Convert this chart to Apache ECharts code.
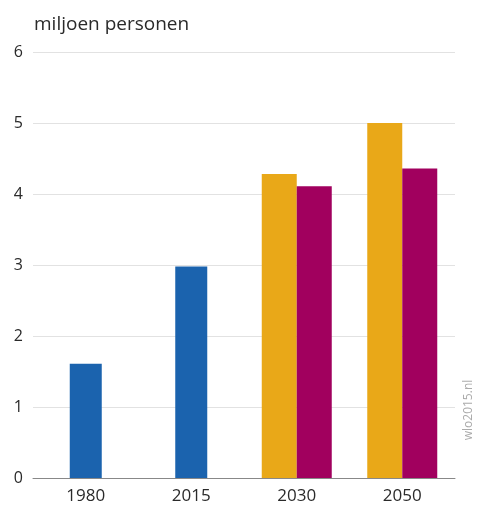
<!DOCTYPE html>
<html>
<head>
<meta charset="utf-8">
<script src="https://cdn.jsdelivr.net/npm/echarts@6/dist/echarts.min.js"></script>
<style>
  html, body { margin: 0; padding: 0; background: #fff; }
  #chart { width: 478px; height: 508px; }
</style>
</head>
<body>
<div id="chart"></div>
<script>
// Population, millions of persons
const years = ['1980', '2015', '2030', '2050'];
const observed = [1.61, 2.98, null, null];
const scenarioHigh = [null, null, 4.28, 5.0];
const scenarioLow = [null, null, 4.11, 4.36];
const yTicks = [0, 1, 2, 3, 4, 5, 6];

const font = 'Open Sans';
const chart = echarts.init(document.getElementById('chart'));

chart.setOption({
  animation: false,
  backgroundColor: '#ffffff',
  grid: { left: 33, right: 23, top: 52, bottom: 30 },
  graphic: [
    {
      type: 'text', left: 34, top: 15,
      style: { text: 'miljoen personen', font: '19px "' + font + '"', fill: '#2a2a2a' }
    },
    {
      type: 'text', x: 469, y: 410, rotation: Math.PI / 2,
      style: {
        text: 'wlo2015.nl', font: '12px "' + font + '"', fill: '#aaa',
        align: 'center', verticalAlign: 'middle'
      }
    }
  ],
  xAxis: [
    {
      type: 'category', data: years,
      axisLine: { show: true, lineStyle: { color: '#888', width: 1 } },
      axisTick: { show: false },
      axisLabel: { color: '#2a2a2a', fontSize: 17, fontFamily: font, margin: 10 }
    },
    {
      type: 'category', data: years, show: false, position: 'bottom'
    }
  ],
  yAxis: {
    type: 'value', min: yTicks[0], max: yTicks[yTicks.length - 1], interval: 1,
    axisLine: { show: false },
    axisTick: { show: false },
    splitLine: { lineStyle: { color: '#e2e2e2', width: 1 } },
    axisLabel: { color: '#2a2a2a', fontSize: 16, fontFamily: font, margin: 10 }
  },
  series: [
    {
      type: 'bar', xAxisIndex: 0, data: observed, barWidth: 32,
      itemStyle: { color: '#1b63ae' }
    },
    {
      type: 'bar', xAxisIndex: 1, data: scenarioHigh, barWidth: 35, barGap: '0%',
      itemStyle: { color: '#e9a818' }
    },
    {
      type: 'bar', xAxisIndex: 1, data: scenarioLow, barWidth: 35, barGap: '0%',
      itemStyle: { color: '#a1005e' }
    }
  ]
});
</script>
</body>
</html>
